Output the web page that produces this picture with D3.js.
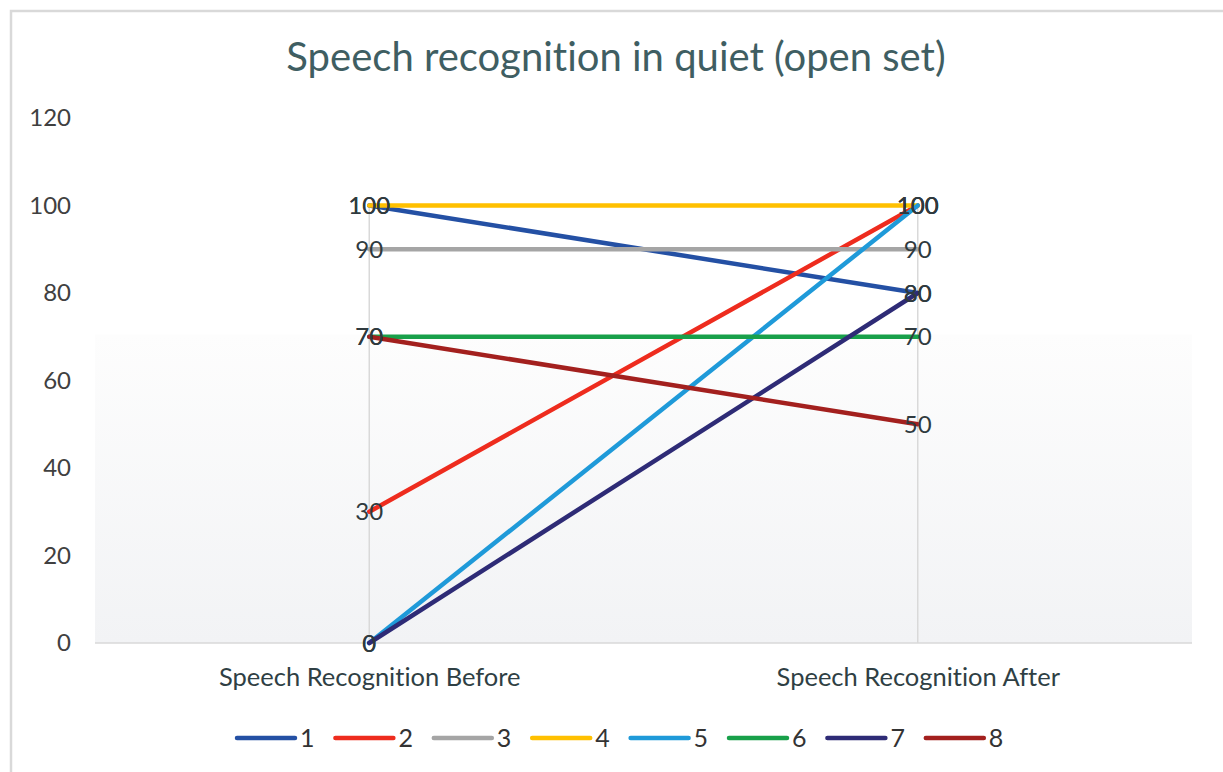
<!DOCTYPE html>
<html><head><meta charset="utf-8">
<script src="https://cdn.jsdelivr.net/npm/d3@7"></script>
<style>body{margin:0;background:#fff}svg{display:block}text{font-family:Lato,"Open Sans",sans-serif;font-variant-ligatures:none;font-feature-settings:"liga" 0}</style>
</head><body>
<svg id="c" width="1223" height="772"></svg>
<script>
const categories = ["Speech Recognition Before", "Speech Recognition After"];
const seriesNames = ["1","2","3","4","5","6","7","8"];
const before = [100, 30, 90, 100, 0, 70, 0, 70];
const after  = [80, 100, 90, 100, 100, 70, 80, 50];
const colors = ["#2450a4","#ee2c1e","#a5a5a5","#ffc000","#1f9ad9","#18a04a","#2e2b76","#a3201e"];
const yTicks = [0,20,40,60,80,100,120];
const title = "Speech recognition in quiet (open set)";

const svg = d3.select("#c");
const L=95, R=1192, T=118, B=643;
const x = d3.scalePoint().domain(categories).range([L,R]).padding(0.5);
const y = d3.scaleLinear().domain([0,120]).range([B,T]);

// frame
svg.append("path").attr("d","M11,772 V11 H1223").attr("fill","none").attr("stroke","#d9d9d9").attr("stroke-width",2.5);

// background gradient
const defs = svg.append("defs");
const g = defs.append("linearGradient").attr("id","bg").attr("x1",0).attr("y1",0).attr("x2",0).attr("y2",1);
g.append("stop").attr("offset","0%").attr("stop-color","#fdfdfd");
g.append("stop").attr("offset","100%").attr("stop-color","#f2f3f5");
svg.append("rect").attr("x",L).attr("y",y(70.5)).attr("width",R-L).attr("height",B-y(70.5)).attr("fill","url(#bg)");

// title
svg.append("text").attr("x",616).attr("y",71).attr("text-anchor","middle")
  .attr("font-size",40).attr("fill","#3f5e62").text(title);

// y axis
const yAxis = d3.axisLeft(y).tickValues(yTicks).tickSize(0).tickPadding(0);
const ya = svg.append("g").attr("transform","translate(71,0)").call(yAxis);
ya.select(".domain").remove();
ya.selectAll("text").attr("font-size",24).attr("fill","#404040").attr("font-family","Lato");

// drop lines
const maxV = d3.max([...before,...after]);
categories.forEach(c=>{
  svg.append("line").attr("x1",x(c)).attr("x2",x(c)).attr("y1",y(maxV)).attr("y2",B)
    .attr("stroke","#d9d9d9").attr("stroke-width",1.5);
});
// baseline / x axis
const xAxis = d3.axisBottom(x).tickSize(0).tickPadding(25);
const xa = svg.append("g").attr("transform",`translate(0,${B})`).call(xAxis);
xa.select(".domain").attr("d",`M${L},0H${R}`).attr("stroke","#d9d9d9").attr("stroke-width",1.5);
xa.selectAll("text").attr("font-size",25.5).attr("fill","#2f3f44").attr("font-family","Lato");

// series
const data = seriesNames.map((n,i)=>({name:n,color:colors[i],vals:[before[i],after[i]]}));
const line = d3.line().x((d,j)=>x(categories[j])).y(d=>y(d));
svg.append("g").selectAll("path").data(data).join("path")
  .attr("d",d=>line(d.vals)).attr("fill","none").attr("stroke",d=>d.color)
  .attr("stroke-width",4.5).attr("stroke-linecap","round");

// data labels
const lab = svg.append("g");
data.forEach(d=>{
  d.vals.forEach((v,j)=>{
    lab.append("text").attr("x",x(categories[j])).attr("y",y(v)).attr("dy","0.36em")
      .attr("text-anchor","middle").attr("font-size",24).attr("fill","#2f3a3e").text(v);
  });
});

// legend
const lg = svg.append("g");
const lx0 = 237, ly = 738, step = 98.4;
data.forEach((d,i)=>{
  const gx = lx0 + i*step;
  lg.append("line").attr("x1",gx).attr("x2",gx+58).attr("y1",ly).attr("y2",ly)
    .attr("stroke",d.color).attr("stroke-width",4.5).attr("stroke-linecap","round");
  lg.append("text").attr("x",gx+63).attr("y",ly).attr("dy","0.36em").attr("font-size",25)
    .attr("fill","#333").text(d.name);
});
</script>
</body></html>
